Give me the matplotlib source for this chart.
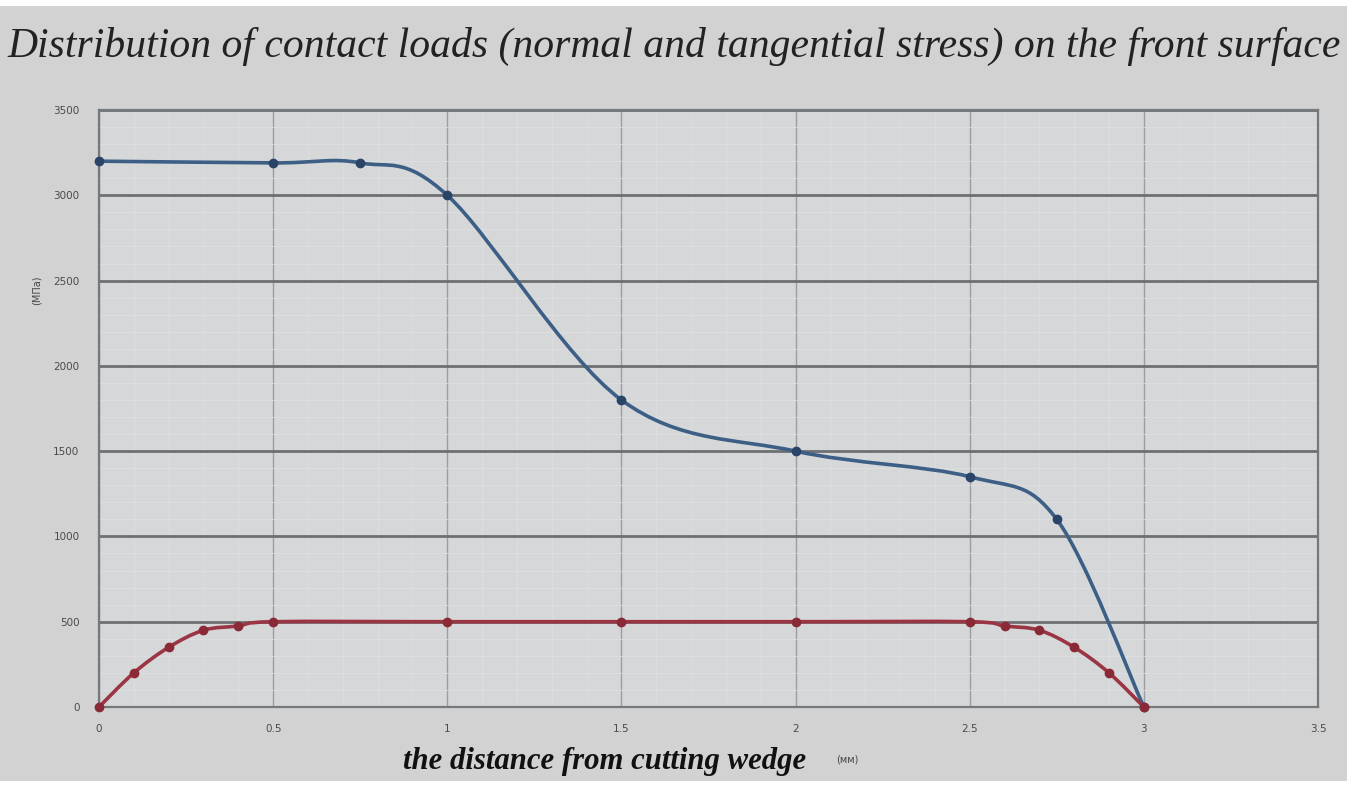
import numpy as np
import matplotlib
matplotlib.use("Agg")
import matplotlib.pyplot as plt
from matplotlib.path import Path
from matplotlib.patches import PathPatch, Rectangle
from matplotlib.ticker import MultipleLocator

# ---- data ----
normal_x = [0, 0.5, 0.75, 1.0, 1.5, 2.0, 2.5, 2.75, 3.0]
normal_y = [3200, 3190, 3190, 3000, 1800, 1500, 1350, 1100, 0]
tang_x = [0, 0.1, 0.2, 0.3, 0.4, 0.5, 1.0, 1.5, 2.0, 2.5, 2.6, 2.7, 2.8, 2.9, 3.0]
tang_y = [0, 200, 350, 450, 475, 500, 500, 500, 500, 500, 475, 450, 350, 200, 0]
x_ticks = [0, 0.5, 1, 1.5, 2, 2.5, 3, 3.5]
x_tick_labels = ["0", "0.5", "1", "1.5", "2", "2.5", "3", "3.5"]
y_ticks = [0, 500, 1000, 1500, 2000, 2500, 3000, 3500]

title = "Distribution of contact loads (normal and tangential stress) on the front surface"
xlabel = "the distance from cutting wedge"
xunit = "(мм)"
yunit = "(МПа)"

W, H = 1357, 787
fig = plt.figure(figsize=(W / 100, H / 100), dpi=100)
fig.patch.set_facecolor("white")
bg = Rectangle((0, 0.008), 1347 / W, 0.992 - 0.008, transform=fig.transFigure,
               facecolor="#d2d2d2", edgecolor="none", zorder=-10)
fig.add_artist(bg)

ax = fig.add_axes([99 / W, 1 - 707 / H, (1318 - 99) / W, (707 - 110) / H])
ax.set_zorder(1)
ax.set_facecolor("#d5d7d8")
ax.set_xlim(0, 3.5)
ax.set_ylim(0, 3500)

ax.xaxis.set_minor_locator(MultipleLocator(0.1))
ax.yaxis.set_minor_locator(MultipleLocator(100))
ax.grid(which="minor", color="#dfe0e1", linewidth=0.8, alpha=0.7)
ax.grid(which="major", axis="x", color="#9a9ea1", linewidth=1.0)
ax.grid(which="major", axis="y", color="#6c7072", linewidth=2.0)
ax.set_axisbelow(True)
for s in ax.spines.values():
    s.set_color("#75797c")
    s.set_linewidth(1.6)

ax.set_xticks(x_ticks)
ax.set_xticklabels(x_tick_labels)
ax.set_yticks(y_ticks)
ax.tick_params(which="both", length=0, labelsize=7.5, labelcolor="#4a4a4a", pad=12)
ax.tick_params(axis="y", pad=14)


def smooth_path(xs, ys):
    pts = np.column_stack([xs, ys]).astype(float)
    n = len(pts)
    verts = [pts[0]]
    codes = [Path.MOVETO]
    for i in range(n - 1):
        p0 = pts[i - 1] if i > 0 else pts[i]
        p1 = pts[i]
        p2 = pts[i + 1]
        p3 = pts[i + 2] if i + 2 < n else pts[i + 1]
        c1 = p1 + (p2 - p0) / 6.0
        c2 = p2 - (p3 - p1) / 6.0
        verts += [c1, c2, p2]
        codes += [Path.CURVE4] * 3
    return Path(verts, codes)


ax.add_patch(PathPatch(smooth_path(normal_x, normal_y), facecolor="none",
                       edgecolor="#3d5f86", linewidth=2.6, zorder=3, capstyle="round"))
ax.plot(normal_x, normal_y, linestyle="none", marker="o", markersize=6,
        color="#2a4468", zorder=4, clip_on=False)

ax.add_patch(PathPatch(smooth_path(tang_x, tang_y), facecolor="none",
                       edgecolor="#9b3544", linewidth=2.6, zorder=5, capstyle="round"))
ax.plot(tang_x, tang_y, linestyle="none", marker="o", markersize=6,
        color="#8a2a36", zorder=6, clip_on=False)

t = fig.text(674 / W, 1 - 46 / H, title, ha="center", va="center",
             fontsize=28, style="italic", family="Liberation Serif", color="#222222")
xl = fig.text(605 / W, 1 - 762 / H, xlabel, ha="center", va="center",
              fontsize=18, style="italic", weight="bold", family="Liberation Serif", color="#111111")
fig.text(847 / W, 1 - 760 / H, xunit, ha="center", va="center",
         fontsize=7, color="#444444")
fig.text(37 / W, 1 - 290 / H, yunit, ha="center", va="center",
         fontsize=7, rotation=90, color="#444444")

# fit text widths to the reference
r = fig.canvas.get_renderer()
for txt, target in ((t, 1332), (xl, 404)):
    w = txt.get_window_extent(r).width
    txt.set_fontsize(txt.get_fontsize() * target / w)

fig.savefig("out.png", dpi=100, facecolor=fig.get_facecolor())
